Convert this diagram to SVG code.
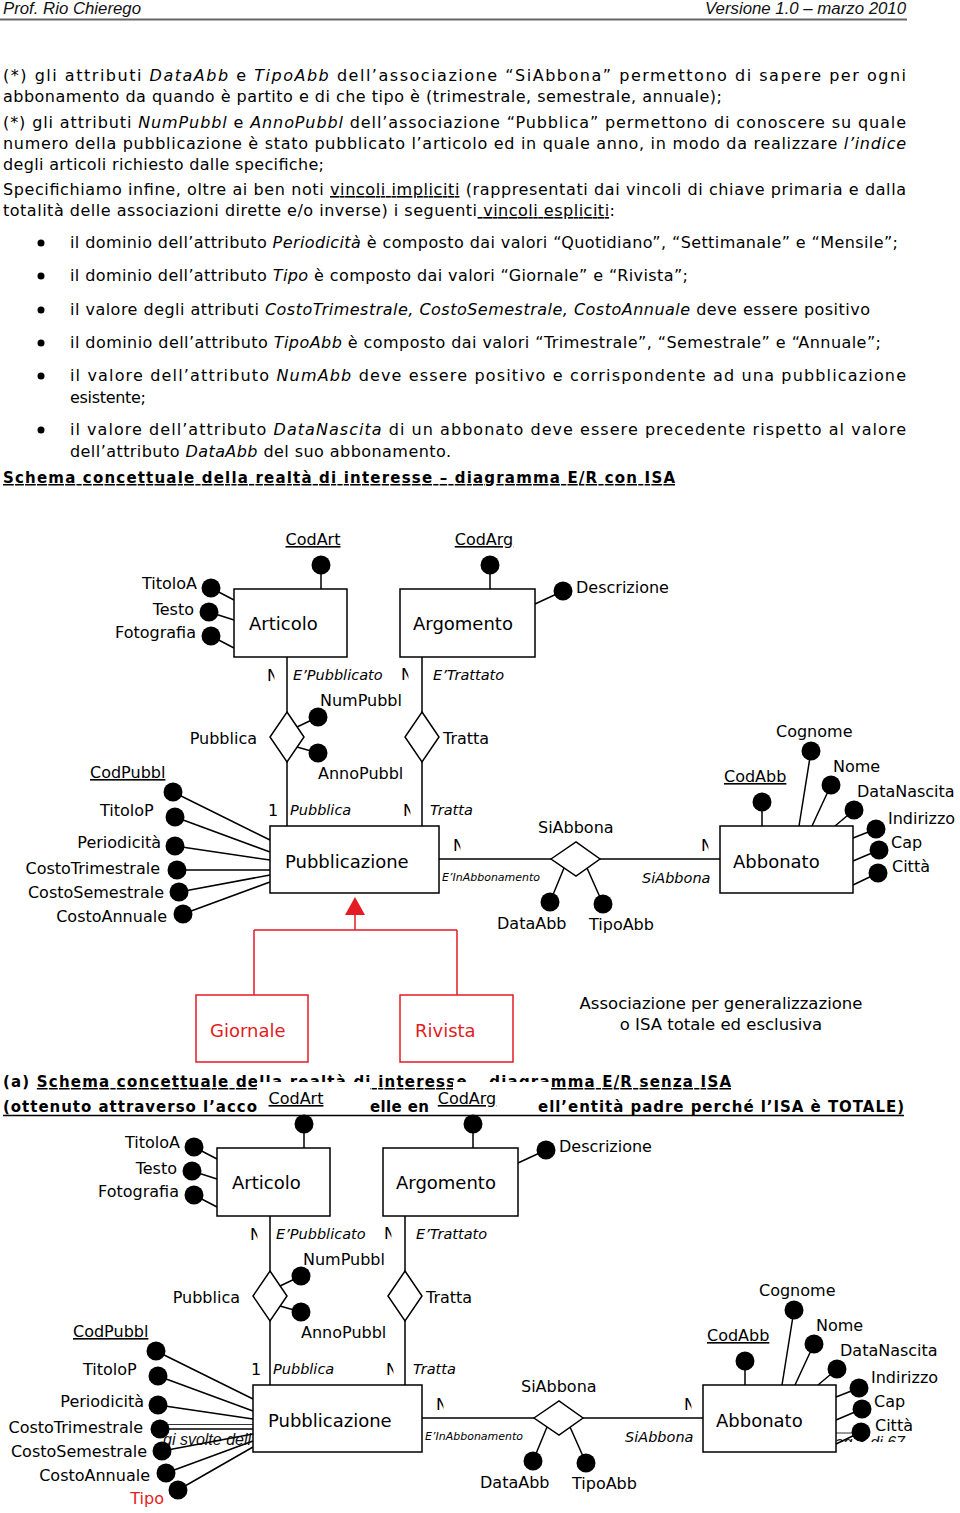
<svg xmlns="http://www.w3.org/2000/svg" width="960" height="1513" viewBox="0 0 960 1513">
<defs>
<style>
.hdr{font-family:"Liberation Sans",Arial,sans-serif;font-style:italic;font-size:16px;fill:#111}
.body{font-family:"DejaVu Sans",Verdana,sans-serif;font-size:16px;fill:#000}
.hd{font-family:"DejaVu Sans",Verdana,sans-serif;font-size:15px;font-weight:bold;fill:#000}
.i{font-style:italic}
.u{text-decoration:underline}
.ln{stroke:#000;stroke-width:1.5;fill:none}
.red{stroke:#e31b23;stroke-width:1.5;fill:none}
.ent{fill:#fff;stroke:#000;stroke-width:1.5}
.entr{fill:#fff;stroke:#e31b23;stroke-width:1.5}
.dot{fill:#000}
.lbl{font-family:"DejaVu Sans",Verdana,sans-serif;font-size:16px;fill:#000}
.en{font-family:"DejaVu Sans",Verdana,sans-serif;font-size:18px;fill:#000}
.role{font-family:"DejaVu Sans",Verdana,sans-serif;font-size:14.5px;font-style:italic;fill:#000}
.small{font-size:11px}
.rt{fill:#e31b23}
.end{text-anchor:end}
.mid{text-anchor:middle}
</style>
<clipPath id="cutN" clipPathUnits="objectBoundingBox"><rect x="0" y="0" width="0.62" height="1"/></clipPath>
<clipPath id="cutFoot"><rect x="836" y="1420" width="100" height="22"/></clipPath>
</defs>
<rect x="0" y="0" width="960" height="1513" fill="#fff"/>

<g id="page-header">
<text class="hdr" x="3" y="14" textLength="138" lengthAdjust="spacingAndGlyphs">Prof. Rio Chierego</text>
<text class="hdr" x="705" y="14" textLength="201" lengthAdjust="spacingAndGlyphs">Versione 1.0 – marzo 2010</text>
<line x1="0" y1="19.5" x2="907" y2="19.5" stroke="#666" stroke-width="2"/>
</g>

<g id="body-text">
<text class="body" x="3" y="81" textLength="903" lengthAdjust="spacing">(*) gli attributi <tspan class="i">DataAbb</tspan> e <tspan class="i">TipoAbb</tspan> dell’associazione “SiAbbona” permettono di sapere per ogni</text>
<text class="body" x="3" y="102" textLength="719" lengthAdjust="spacing">abbonamento da quando è partito e di che tipo è (trimestrale, semestrale, annuale);</text>
<text class="body" x="3" y="128" textLength="903" lengthAdjust="spacing">(*) gli attributi <tspan class="i">NumPubbl</tspan> e <tspan class="i">AnnoPubbl</tspan> dell’associazione “Pubblica” permettono di conoscere su quale</text>
<text class="body" x="3" y="149" textLength="903" lengthAdjust="spacing">numero della pubblicazione è stato pubblicato l’articolo ed in quale anno, in modo da realizzare <tspan class="i">l’indice</tspan></text>
<text class="body" x="3" y="170" textLength="321" lengthAdjust="spacing">degli articoli richiesto dalle specifiche;</text>
<text class="body" x="3" y="195" textLength="903" lengthAdjust="spacing">Specifichiamo infine, oltre ai ben noti <tspan class="u">vincoli impliciti</tspan> (rappresentati dai vincoli di chiave primaria e dalla</text>
<text class="body" x="3" y="216" textLength="612" lengthAdjust="spacing">totalità delle associazioni dirette e/o inverse)  i seguenti<tspan class="u"> vincoli espliciti</tspan>:</text>
<g id="bullets">
<circle class="dot" cx="41" cy="243" r="3.5"/>
<circle class="dot" cx="41" cy="276" r="3.5"/>
<circle class="dot" cx="41" cy="310" r="3.5"/>
<circle class="dot" cx="41" cy="343" r="3.5"/>
<circle class="dot" cx="41" cy="376" r="3.5"/>
<circle class="dot" cx="41" cy="430" r="3.5"/>
<text class="body" x="70" y="248" textLength="828" lengthAdjust="spacing">il dominio dell’attributo <tspan class="i">Periodicità</tspan> è composto dai valori “Quotidiano”, “Settimanale” e “Mensile”;</text>
<text class="body" x="70" y="281" textLength="618" lengthAdjust="spacing">il dominio dell’attributo <tspan class="i">Tipo</tspan> è composto dai valori “Giornale” e “Rivista”;</text>
<text class="body" x="70" y="315" textLength="800" lengthAdjust="spacing">il valore degli attributi <tspan class="i">CostoTrimestrale, CostoSemestrale, CostoAnnuale</tspan> deve essere positivo</text>
<text class="body" x="70" y="348" textLength="811" lengthAdjust="spacing">il dominio dell’attributo <tspan class="i">TipoAbb</tspan> è composto dai valori “Trimestrale”, “Semestrale” e “Annuale”;</text>
<text class="body" x="70" y="381" textLength="836" lengthAdjust="spacing">il valore dell’attributo <tspan class="i">NumAbb</tspan> deve essere positivo e corrispondente ad una pubblicazione</text>
<text class="body" x="70" y="403" textLength="76" lengthAdjust="spacing">esistente;</text>
<text class="body" x="70" y="435" textLength="836" lengthAdjust="spacing">il valore dell’attributo <tspan class="i">DataNascita</tspan> di un abbonato deve essere precedente rispetto al valore</text>
<text class="body" x="70" y="457" textLength="381" lengthAdjust="spacing">dell’attributo <tspan class="i">DataAbb</tspan> del suo abbonamento.</text>
</g>
<text class="hd u" x="3" y="483" textLength="672" lengthAdjust="spacing">Schema concettuale della realtà di interesse – diagramma E/R con ISA</text>
<text class="hd" x="3" y="1087" textLength="728" lengthAdjust="spacing">(a) <tspan class="u">Schema concettuale della realtà di interesse – diagramma E/R senza ISA</tspan></text>
<g id="heading2-line2">
<text class="hd" x="3" y="1112" textLength="254" lengthAdjust="spacing">(ottenuto attraverso l’acco</text>
<text class="hd" x="370" y="1112" textLength="59" lengthAdjust="spacing">elle en</text>
<text class="hd" x="538" y="1112" textLength="366" lengthAdjust="spacing">ell’entità padre perché l’ISA è TOTALE)</text>
<line x1="3" y1="1115.5" x2="904" y2="1115.5" stroke="#000" stroke-width="1.3"/>
</g>
</g>

<g id="overlap-boxes" fill="#fff">
<rect x="257" y="1082" width="113" height="31.5"/>
<polygon points="453,1082 551,1082 551,1094 537,1094 537,1113.5 429,1113.5 429,1094 453,1094"/>
</g>

<g id="footer-remnants">
<line x1="162" y1="1424.5" x2="253" y2="1424.5" stroke="#333" stroke-width="1.2"/>
<line x1="836" y1="1433" x2="862" y2="1433" stroke="#555" stroke-width="1.2"/>
<text class="hdr" x="163" y="1445">gi svolte dell</text>
<text class="hdr end" x="905" y="1448" clip-path="url(#cutFoot)">pag 3 di 67</text>
</g>

<g id="connectors">
<g id="conn-d1">
<path class="ln" d="M321,565V589 M490,565V589 M535,604L563,591 M211,588L234,600 M209,612L234,620 M211,636L234,648"/>
<path class="ln" d="M287,657V712 M287,762V826 M422,657V712 M422,762V826 M297,727L318,717 M297,747L318,753"/>
<path class="ln" d="M439,859H551 M600,859H720 M564,868L550,902 M587,868L603,904"/>
<path class="ln" d="M762,802V826 M811,751L799,826 M831,785L812,826 M854,810L835,826 M853,838L876,829 M853,861L879,850 M853,885L878,873"/>
<path class="ln" d="M173,792L270,840 M175,817L270,852 M175,846L270,860 M177,870L270,870 M179,892L270,875 M183,914L270,882"/>
<g id="isa">
<path class="red" d="M355,914V930 M254,930H457 M254,930V995 M457,930V995"/>
<polygon points="355,897 345,915 365,915" fill="#e31b23"/>
</g>
</g>
<g id="conn-d2" transform="translate(-17,559)">
<path class="ln" d="M321,565V589 M490,565V589 M535,604L563,591 M211,588L234,600 M209,612L234,620 M211,636L234,648"/>
<path class="ln" d="M287,657V712 M287,762V826 M422,657V712 M422,762V826 M297,727L318,717 M297,747L318,753"/>
<path class="ln" d="M439,859H551 M600,859H720 M564,868L550,902 M587,868L603,904"/>
<path class="ln" d="M762,802V826 M811,751L799,826 M831,785L812,826 M854,810L835,826 M853,838L876,829 M853,861L879,850 M853,885L878,873"/>
<path class="ln" d="M173,792L270,840 M175,817L270,852 M175,846L270,860 M177,870L270,870 M179,892L270,875 M183,914L270,882 M195,931L270,888"/>
</g>
</g>

<g id="diagram1">
<g id="articolo"><rect class="ent" x="234" y="589" width="113" height="68"/><text class="en" x="249" y="630">Articolo</text></g>
<g id="argomento"><rect class="ent" x="400" y="589" width="135" height="68"/><text class="en" x="413" y="630">Argomento</text></g>
<g id="pubblicazione"><rect class="ent" x="270" y="826" width="169" height="67"/><text class="en" x="285" y="868">Pubblicazione</text></g>
<g id="abbonato"><rect class="ent" x="720" y="826" width="133" height="67"/><text class="en" x="733" y="868">Abbonato</text></g>
<g id="giornale"><rect class="entr" x="196" y="995" width="112" height="67"/><text class="en rt" x="210" y="1037">Giornale</text></g>
<g id="rivista"><rect class="entr" x="400" y="995" width="113" height="67"/><text class="en rt" x="415" y="1037">Rivista</text></g>
<g id="rel-pubblica"><polygon class="ent" points="287,712 304,737 287,762 270,737"/><text class="lbl end" x="257" y="744">Pubblica</text></g>
<g id="rel-tratta"><polygon class="ent" points="422,712 439,737 422,762 405,737"/><text class="lbl" x="443" y="744">Tratta</text></g>
<g id="rel-siabbona"><polygon class="ent" points="551,859 576,842 600,859 576,876"/><text class="lbl" x="538" y="833">SiAbbona</text></g>
<g id="a-codart"><circle class="dot" cx="321" cy="565" r="9.5"/><text class="lbl mid u" x="313" y="545">CodArt</text></g>
<g id="a-codarg"><circle class="dot" cx="490" cy="565" r="9.5"/><text class="lbl mid u" x="484" y="545">CodArg</text></g>
<g id="a-descrizione"><circle class="dot" cx="563" cy="591" r="9.5"/><text class="lbl" x="576" y="593">Descrizione</text></g>
<g id="a-titoloa"><circle class="dot" cx="211" cy="588" r="9.5"/><text class="lbl end" x="197" y="589">TitoloA</text></g>
<g id="a-testo"><circle class="dot" cx="209" cy="612" r="9.5"/><text class="lbl end" x="194" y="615">Testo</text></g>
<g id="a-fotografia"><circle class="dot" cx="211" cy="636" r="9.5"/><text class="lbl end" x="196" y="638">Fotografia</text></g>
<g id="a-numpubbl"><circle class="dot" cx="318" cy="717" r="9.5"/><text class="lbl" x="320" y="706">NumPubbl</text></g>
<g id="a-annopubbl"><circle class="dot" cx="318" cy="753" r="9.5"/><text class="lbl" x="318" y="779">AnnoPubbl</text></g>
<g id="a-codpubbl"><circle class="dot" cx="173" cy="792" r="9.5"/><text class="lbl u" x="90" y="778">CodPubbl</text></g>
<g id="a-titolop"><circle class="dot" cx="175" cy="817" r="9.5"/><text class="lbl" x="100" y="816">TitoloP</text></g>
<g id="a-periodicita"><circle class="dot" cx="175" cy="846" r="9.5"/><text class="lbl end" x="161" y="848">Periodicità</text></g>
<g id="a-costotrim"><circle class="dot" cx="177" cy="870" r="9.5"/><text class="lbl end" x="160" y="874">CostoTrimestrale</text></g>
<g id="a-costosem"><circle class="dot" cx="179" cy="892" r="9.5"/><text class="lbl end" x="164" y="898">CostoSemestrale</text></g>
<g id="a-costoann"><circle class="dot" cx="183" cy="914" r="9.5"/><text class="lbl end" x="167" y="922">CostoAnnuale</text></g>
<g id="a-dataabb"><circle class="dot" cx="550" cy="902" r="9.5"/><text class="lbl" x="497" y="929">DataAbb</text></g>
<g id="a-tipoabb"><circle class="dot" cx="603" cy="904" r="9.5"/><text class="lbl" x="589" y="930">TipoAbb</text></g>
<g id="a-codabb"><circle class="dot" cx="762" cy="802" r="9.5"/><text class="lbl u" x="724" y="782">CodAbb</text></g>
<g id="a-cognome"><circle class="dot" cx="811" cy="751" r="9.5"/><text class="lbl" x="776" y="737">Cognome</text></g>
<g id="a-nome"><circle class="dot" cx="831" cy="785" r="9.5"/><text class="lbl" x="833" y="772">Nome</text></g>
<g id="a-datanascita"><circle class="dot" cx="854" cy="810" r="9.5"/><text class="lbl" x="857" y="797">DataNascita</text></g>
<g id="a-indirizzo"><circle class="dot" cx="876" cy="829" r="9.5"/><text class="lbl" x="888" y="824">Indirizzo</text></g>
<g id="a-cap"><circle class="dot" cx="879" cy="850" r="9.5"/><text class="lbl" x="891" y="848">Cap</text></g>
<g id="a-citta"><circle class="dot" cx="878" cy="873" r="9.5"/><text class="lbl" x="892" y="872">Città</text></g>
<g id="roles1">
<text class="lbl" x="267" y="681" clip-path="url(#cutN)">N</text>
<text class="role" x="293" y="680">E’Pubblicato</text>
<text class="lbl" x="401" y="680" clip-path="url(#cutN)">N</text>
<text class="role" x="433" y="680">E’Trattato</text>
<text class="lbl" x="268" y="816">1</text>
<text class="role" x="290" y="815">Pubblica</text>
<text class="lbl" x="403" y="816" clip-path="url(#cutN)">N</text>
<text class="role" x="430" y="815">Tratta</text>
<text class="lbl" x="453" y="851" clip-path="url(#cutN)">N</text>
<text class="role small" x="442" y="881">E’InAbbonamento</text>
<text class="lbl" x="701" y="851" clip-path="url(#cutN)">N</text>
<text class="role" x="642" y="883">SiAbbona</text>
</g>
<g id="isa-note">
<text class="lbl mid" x="721" y="1009" style="font-size:16.5px">Associazione per generalizzazione</text>
<text class="lbl mid" x="721" y="1030" style="font-size:16.5px">o ISA totale ed esclusiva</text>
</g>
</g>

<g id="diagram2" transform="translate(-17,559)">
<g id="articolo2"><rect class="ent" x="234" y="589" width="113" height="68"/><text class="en" x="249" y="630">Articolo</text></g>
<g id="argomento2"><rect class="ent" x="400" y="589" width="135" height="68"/><text class="en" x="413" y="630">Argomento</text></g>
<g id="pubblicazione2"><rect class="ent" x="270" y="826" width="169" height="67"/><text class="en" x="285" y="868">Pubblicazione</text></g>
<g id="abbonato2"><rect class="ent" x="720" y="826" width="133" height="67"/><text class="en" x="733" y="868">Abbonato</text></g>
<g id="rel-pubblica2"><polygon class="ent" points="287,712 304,737 287,762 270,737"/><text class="lbl end" x="257" y="744">Pubblica</text></g>
<g id="rel-tratta2"><polygon class="ent" points="422,712 439,737 422,762 405,737"/><text class="lbl" x="443" y="744">Tratta</text></g>
<g id="rel-siabbona2"><polygon class="ent" points="551,859 576,842 600,859 576,876"/><text class="lbl" x="538" y="833">SiAbbona</text></g>
<g id="a-codart2"><circle class="dot" cx="321" cy="565" r="9.5"/><text class="lbl mid u" x="313" y="545">CodArt</text></g>
<g id="a-codarg2"><circle class="dot" cx="490" cy="565" r="9.5"/><text class="lbl mid u" x="484" y="545">CodArg</text></g>
<g id="a-descrizione2"><circle class="dot" cx="563" cy="591" r="9.5"/><text class="lbl" x="576" y="593">Descrizione</text></g>
<g id="a-titoloa2"><circle class="dot" cx="211" cy="588" r="9.5"/><text class="lbl end" x="197" y="589">TitoloA</text></g>
<g id="a-testo2"><circle class="dot" cx="209" cy="612" r="9.5"/><text class="lbl end" x="194" y="615">Testo</text></g>
<g id="a-fotografia2"><circle class="dot" cx="211" cy="636" r="9.5"/><text class="lbl end" x="196" y="638">Fotografia</text></g>
<g id="a-numpubbl2"><circle class="dot" cx="318" cy="717" r="9.5"/><text class="lbl" x="320" y="706">NumPubbl</text></g>
<g id="a-annopubbl2"><circle class="dot" cx="318" cy="753" r="9.5"/><text class="lbl" x="318" y="779">AnnoPubbl</text></g>
<g id="a-codpubbl2"><circle class="dot" cx="173" cy="792" r="9.5"/><text class="lbl u" x="90" y="778">CodPubbl</text></g>
<g id="a-titolop2"><circle class="dot" cx="175" cy="817" r="9.5"/><text class="lbl" x="100" y="816">TitoloP</text></g>
<g id="a-periodicita2"><circle class="dot" cx="175" cy="846" r="9.5"/><text class="lbl end" x="161" y="848">Periodicità</text></g>
<g id="a-costotrim2"><circle class="dot" cx="177" cy="870" r="9.5"/><text class="lbl end" x="160" y="874">CostoTrimestrale</text></g>
<g id="a-costosem2"><circle class="dot" cx="179" cy="892" r="9.5"/><text class="lbl end" x="164" y="898">CostoSemestrale</text></g>
<g id="a-costoann2"><circle class="dot" cx="183" cy="914" r="9.5"/><text class="lbl end" x="167" y="922">CostoAnnuale</text></g>
<g id="a-tipo2"><circle class="dot" cx="195" cy="931" r="9.5"/><text class="lbl end rt" x="181" y="945">Tipo</text></g>
<g id="a-dataabb2"><circle class="dot" cx="550" cy="902" r="9.5"/><text class="lbl" x="497" y="929">DataAbb</text></g>
<g id="a-tipoabb2"><circle class="dot" cx="603" cy="904" r="9.5"/><text class="lbl" x="589" y="930">TipoAbb</text></g>
<g id="a-codabb2"><circle class="dot" cx="762" cy="802" r="9.5"/><text class="lbl u" x="724" y="782">CodAbb</text></g>
<g id="a-cognome2"><circle class="dot" cx="811" cy="751" r="9.5"/><text class="lbl" x="776" y="737">Cognome</text></g>
<g id="a-nome2"><circle class="dot" cx="831" cy="785" r="9.5"/><text class="lbl" x="833" y="772">Nome</text></g>
<g id="a-datanascita2"><circle class="dot" cx="854" cy="810" r="9.5"/><text class="lbl" x="857" y="797">DataNascita</text></g>
<g id="a-indirizzo2"><circle class="dot" cx="876" cy="829" r="9.5"/><text class="lbl" x="888" y="824">Indirizzo</text></g>
<g id="a-cap2"><circle class="dot" cx="879" cy="850" r="9.5"/><text class="lbl" x="891" y="848">Cap</text></g>
<g id="a-citta2"><circle class="dot" cx="878" cy="873" r="9.5"/><text class="lbl" x="892" y="872">Città</text></g>
<g id="roles2">
<text class="lbl" x="267" y="681" clip-path="url(#cutN)">N</text>
<text class="role" x="293" y="680">E’Pubblicato</text>
<text class="lbl" x="401" y="680" clip-path="url(#cutN)">N</text>
<text class="role" x="433" y="680">E’Trattato</text>
<text class="lbl" x="268" y="816">1</text>
<text class="role" x="290" y="815">Pubblica</text>
<text class="lbl" x="403" y="816" clip-path="url(#cutN)">N</text>
<text class="role" x="430" y="815">Tratta</text>
<text class="lbl" x="453" y="851" clip-path="url(#cutN)">N</text>
<text class="role small" x="442" y="881">E’InAbbonamento</text>
<text class="lbl" x="701" y="851" clip-path="url(#cutN)">N</text>
<text class="role" x="642" y="883">SiAbbona</text>
</g>
</g>
</svg>
